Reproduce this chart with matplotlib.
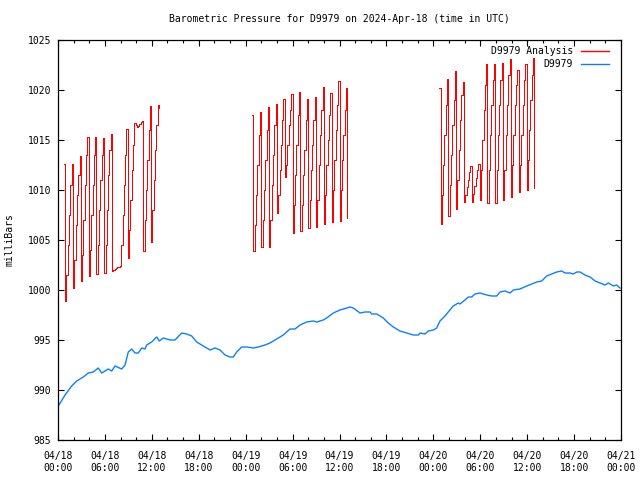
import matplotlib
matplotlib.use('Agg')
import matplotlib.pyplot as plt
import numpy as np

# ---------------- data ----------------
title = 'Barometric Pressure for D9979 on 2024-Apr-18 (time in UTC)'
ylabel = 'milliBars'
series_names = ['D9979 Analysis', 'D9979']

# x axis: hours since 04/18 00:00 UTC
tick_hours = [0, 6, 12, 18, 24, 30, 36, 42, 48, 54, 60, 66, 72]
tick_labels = ['04/18\n00:00', '04/18\n06:00', '04/18\n12:00', '04/18\n18:00',
               '04/19\n00:00', '04/19\n06:00', '04/19\n12:00', '04/19\n18:00',
               '04/20\n00:00', '04/20\n06:00', '04/20\n12:00', '04/20\n18:00',
               '04/21\n00:00']

# Analysis series: three blocks, 10-minute samples starting at the given hour
ana1_start = 0.75
ana1 = [1012.6, 998.9, 1001.5, 1004.5, 1007.5, 1010.5,
        1012.6, 1000.2, 1003.0, 1006.5, 1009.5, 1011.5,
        1013.4, 1000.9, 1003.5, 1007.0, 1010.5, 1013.5,
        1015.3, 1001.4, 1004.0, 1007.5, 1010.5, 1013.5,
        1015.3, 1001.6, 1004.5, 1008.0, 1011.0, 1013.5,
        1015.2, 1001.7, 1004.5, 1008.0, 1011.5, 1014.0,
        1015.6, 1001.9, 1002.0, 1002.1, 1002.2, 1002.3,
        1002.3, 1002.4, 1004.5, 1007.5, 1010.5, 1013.5,
        1016.1, 1003.2, 1006.0, 1009.0, 1012.0, 1014.5,
        1016.7, 1016.5, 1016.3, 1016.4, 1016.6, 1016.8,
        1016.9, 1003.9, 1007.0, 1010.0, 1013.0, 1016.0,
        1018.4, 1004.8, 1008.0, 1011.0, 1014.0, 1016.5,
        1018.5, 1018.2]

ana2_start = 24 + 50 / 60
ana2 = [1017.5, 1003.9, 1006.5, 1009.5, 1012.5, 1015.5,
        1017.8, 1004.3, 1007.0, 1010.0, 1013.0, 1016.0,
        1018.3, 1004.3, 1007.0, 1010.5, 1013.5, 1016.5,
        1018.6, 1007.7, 1009.5, 1012.0, 1014.5, 1017.0,
        1019.1, 1011.3, 1012.5, 1014.5, 1016.5, 1018.0,
        1019.6, 1005.7, 1008.5, 1011.5, 1014.5, 1017.5,
        1019.8, 1005.9, 1008.5, 1011.5, 1014.0, 1017.0,
        1019.1, 1006.2, 1009.0, 1012.0, 1014.5, 1017.0,
        1019.3, 1006.3, 1009.0, 1012.5, 1015.5, 1018.0,
        1020.3, 1006.6, 1009.5, 1012.5, 1015.0, 1017.5,
        1019.7, 1006.8, 1010.0, 1013.0, 1016.0, 1018.5,
        1020.9, 1006.9, 1010.0, 1013.0, 1015.5, 1018.0,
        1020.2, 1007.2]

ana3_start = 48.75
ana3 = [1020.2, 1006.6, 1009.5, 1012.5, 1015.5, 1018.5,
        1021.1, 1007.4, 1010.5, 1013.5, 1016.5, 1019.0,
        1021.9, 1008.1, 1011.0, 1014.0, 1017.0, 1019.5,
        1020.8, 1008.8, 1009.5, 1010.3, 1011.0, 1011.8,
        1012.4, 1008.8, 1009.6, 1010.4, 1011.2, 1012.0,
        1012.6, 1009.0, 1012.0, 1015.0, 1018.0, 1020.5,
        1022.6, 1008.7, 1012.0, 1015.5, 1018.5, 1021.0,
        1022.6, 1008.7, 1012.0, 1015.5, 1018.5, 1021.0,
        1022.7, 1009.0, 1012.0, 1015.5, 1018.5, 1021.5,
        1023.1, 1009.3, 1012.5, 1015.5, 1018.5, 1020.5,
        1022.0, 1009.8, 1012.5, 1015.5, 1018.5, 1021.0,
        1022.6, 1010.0, 1013.0, 1016.0, 1019.0, 1021.5,
        1023.2, 1010.2]

# Observed series
obs_hours = [0.04, 0.9, 1.75, 2.39, 3.24, 3.87, 4.51, 5.15, 5.59, 6.43, 6.87, 7.29,
             8.15, 8.57, 8.99, 9.43, 9.85, 10.27, 10.7, 11.13, 11.34, 11.98, 12.62,
             12.95, 13.47, 13.9, 14.32, 14.96, 15.82, 16.46, 17.1, 17.74, 18.58,
             19.44, 20.08, 20.72, 21.36, 22.0, 22.42, 22.85, 23.49, 24.13, 24.98,
             25.62, 26.47, 27.11, 27.97, 28.81, 29.67, 30.31, 30.95, 31.81, 32.65,
             33.08, 33.93, 34.36, 35.21, 36.06, 36.92, 37.34, 37.77, 38.62, 39.26,
             39.9, 40.12, 40.76, 41.6, 42.24, 42.88, 43.74, 44.59, 45.44, 46.08,
             46.3, 46.93, 47.36, 48.0, 48.43, 48.85, 49.49, 49.91, 50.55, 51.19,
             51.41, 52.05, 52.47, 52.91, 53.33, 53.97, 54.83, 55.46, 56.1, 56.53,
             57.17, 57.81, 58.23, 59.08, 59.94, 60.58, 61.22, 61.86, 62.5, 63.14,
             63.78, 64.42, 64.84, 65.48, 65.9, 66.34, 66.76, 67.4, 68.04, 68.68,
             69.31, 69.95, 70.38, 71.02, 71.45, 71.87]
obs_values = [988.4, 989.5, 990.4, 990.9, 991.3, 991.7, 991.8, 992.2, 991.7, 992.1, 991.9, 992.4,
              992.1, 992.5, 993.8, 994.1, 993.7, 993.7, 994.2, 994.1, 994.5, 994.8, 995.3,
              994.9, 995.2, 995.1, 995.0, 995.0, 995.7, 995.6, 995.4, 994.8, 994.4,
              994.0, 994.2, 994.0, 993.5, 993.3, 993.3, 993.8, 994.3, 994.3, 994.2,
              994.3, 994.5, 994.7, 995.1, 995.5, 996.1, 996.1, 996.5, 996.8, 996.9,
              996.8, 997.0, 997.2, 997.7, 998.0, 998.2, 998.3, 998.2, 997.7, 997.8,
              997.8, 997.6, 997.6, 997.2, 996.7, 996.3, 995.9, 995.7, 995.5, 995.5,
              995.7, 995.6, 995.9, 996.0, 996.2, 996.9, 997.4, 997.8, 998.4, 998.7,
              998.6, 999.0, 999.3, 999.3, 999.6, 999.7, 999.5, 999.4, 999.4, 999.8,
              999.9, 999.7, 1000.0, 1000.1, 1000.4, 1000.6, 1000.8, 1000.9, 1001.4, 1001.6,
              1001.8, 1001.9, 1001.7, 1001.7, 1001.6, 1001.8, 1001.8, 1001.5, 1001.3, 1000.9,
              1000.7, 1000.5, 1000.7, 1000.4, 1000.5, 1000.2]

# ---------------- figure ----------------
plt.rcParams['font.family'] = ['DejaVu Sans Mono', 'DejaVu Sans']
plt.rcParams['font.size'] = 7

fig = plt.figure(figsize=(6.4, 4.8), dpi=100)
ax = fig.add_axes([58 / 640, 40 / 480, 563 / 640, 400 / 480])

xs, ys = [], []
for start, vals in [(ana1_start, ana1), (ana2_start, ana2), (ana3_start, ana3)]:
    t = start + np.arange(len(vals)) / 6.0
    xs.extend(list(t) + [np.nan])
    ys.extend(list(vals) + [np.nan])

ax.plot(xs, ys, color='#ff0000', lw=0.72, drawstyle='steps-post', antialiased=False,
        label=series_names[0])
ax.plot(obs_hours, obs_values, color='#0a80ff', lw=1.0, label=series_names[1])

ax.set_xlim(0, 72)
ax.set_ylim(985, 1025)
ax.set_xticks(tick_hours)
ax.set_xticklabels(tick_labels)
ax.set_xticks(np.arange(0, 73, 2), minor=True)
ax.set_yticks(np.arange(985, 1026, 5))

ax.tick_params(which='both', direction='in', top=True, right=True, width=0.8, colors='black')
ax.tick_params(which='major', length=4.5)
ax.tick_params(which='minor', length=2.2)
ax.tick_params(axis='x', which='major', pad=8)
ax.tick_params(axis='y', which='major', pad=5)
for s in ax.spines.values():
    s.set_linewidth(0.9)

ax.set_title(title, fontsize=7, pad=13)
ax.set_ylabel(ylabel)
ax.yaxis.set_label_coords(-0.077, 0.5)

leg = ax.legend(loc='upper right', bbox_to_anchor=(0.979, 0.985), markerfirst=False,
                frameon=False, handlelength=2.9, handletextpad=0.8, labelspacing=0.3,
                borderaxespad=0, borderpad=0)
for h in leg.get_lines():
    h.set_antialiased(True)
    h.set_linewidth(1.0)

fig.savefig('out.png', dpi=100)
